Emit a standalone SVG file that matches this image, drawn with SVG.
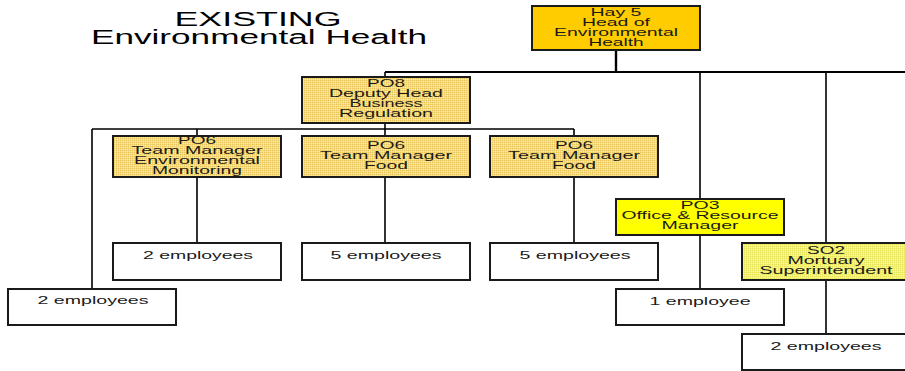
<svg xmlns="http://www.w3.org/2000/svg" width="905" height="371" viewBox="0 0 905 371">
<defs>
<pattern id="dOr" width="2" height="2" patternUnits="userSpaceOnUse">
<rect width="2" height="2" fill="#F6DA82"/><rect width="1" height="1" fill="#E9C75C"/><rect x="1" y="1" width="1" height="1" fill="#FCEAA8"/>
</pattern>
<pattern id="dYe" width="2" height="2" patternUnits="userSpaceOnUse">
<rect width="2" height="2" fill="#F3F07A"/><rect width="1" height="1" fill="#E8E45A"/><rect x="1" y="1" width="1" height="1" fill="#FAF8A8"/>
</pattern>
<style>
.b{stroke:#1a1a1a;stroke-width:2}
.w{fill:#fff}
.c{fill:none;stroke:#000;stroke-width:1.6}
text{font-family:"Liberation Sans",Arial,sans-serif;font-size:11px;fill:#1a1a1a;text-anchor:middle}
.t{font-size:20px;fill:#000}
</style>
</defs>
<g id="title">
<text class="t" x="258" y="26" textLength="167" lengthAdjust="spacingAndGlyphs">EXISTING</text>
<text class="t" x="259" y="44" textLength="336" lengthAdjust="spacingAndGlyphs">Environmental Health</text>
</g>
<g id="connectors">
<path class="c" d="M616 50V72" style="stroke-width:2.4"/>
<path class="c" d="M385 72H905" style="stroke-width:2"/>
<path class="c" d="M385 72V77M700 72V289M826 72V334"/>
<path class="c" d="M385 123V136M92 129H574M92 129V289M197 129V136M574 129V136"/>
<path class="c" d="M197 177V243M385 177V243M574 177V243"/>
</g>
<g id="hay5">
<rect class="b" x="532" y="6" width="168" height="44" fill="#FFCC00"/>
<text x="616" y="16" textLength="51" lengthAdjust="spacingAndGlyphs">Hay 5</text>
<text x="616" y="26" textLength="68" lengthAdjust="spacingAndGlyphs">Head of</text>
<text x="616" y="36" textLength="124" lengthAdjust="spacingAndGlyphs">Environmental</text>
<text x="616" y="46" textLength="55" lengthAdjust="spacingAndGlyphs">Health</text>
</g>
<g id="po8">
<rect class="b" x="302" y="77" width="168" height="46" fill="url(#dOr)"/>
<text x="386" y="87" textLength="38" lengthAdjust="spacingAndGlyphs">PO8</text>
<text x="386" y="97" textLength="114" lengthAdjust="spacingAndGlyphs">Deputy Head</text>
<text x="386" y="107" textLength="73" lengthAdjust="spacingAndGlyphs">Business</text>
<text x="386" y="117" textLength="94" lengthAdjust="spacingAndGlyphs">Regulation</text>
</g>
<g id="po6-env">
<rect class="b" x="113" y="136" width="168" height="41" fill="url(#dOr)"/>
<text x="197" y="144" textLength="38" lengthAdjust="spacingAndGlyphs">PO6</text>
<text x="197" y="154" textLength="131" lengthAdjust="spacingAndGlyphs">Team Manager</text>
<text x="197" y="164" textLength="126" lengthAdjust="spacingAndGlyphs">Environmental</text>
<text x="197" y="174" textLength="90" lengthAdjust="spacingAndGlyphs">Monitoring</text>
</g>
<g id="po6-food1">
<rect class="b" x="302" y="136" width="168" height="41" fill="url(#dOr)"/>
<text x="386" y="149" textLength="38" lengthAdjust="spacingAndGlyphs">PO6</text>
<text x="386" y="159" textLength="132" lengthAdjust="spacingAndGlyphs">Team Manager</text>
<text x="386" y="169" textLength="44" lengthAdjust="spacingAndGlyphs">Food</text>
</g>
<g id="po6-food2">
<rect class="b" x="490" y="136" width="168" height="41" fill="url(#dOr)"/>
<text x="574" y="149" textLength="38" lengthAdjust="spacingAndGlyphs">PO6</text>
<text x="574" y="159" textLength="132" lengthAdjust="spacingAndGlyphs">Team Manager</text>
<text x="574" y="169" textLength="44" lengthAdjust="spacingAndGlyphs">Food</text>
</g>
<g id="po3">
<rect class="b" x="616" y="199" width="168" height="36" fill="#FFFF00"/>
<text x="700" y="209" textLength="39" lengthAdjust="spacingAndGlyphs">PO3</text>
<text x="700" y="219" textLength="157" lengthAdjust="spacingAndGlyphs">Office &amp; Resource</text>
<text x="700" y="229" textLength="77" lengthAdjust="spacingAndGlyphs">Manager</text>
</g>
<g id="so2">
<rect class="b" x="742" y="243" width="170" height="37" fill="url(#dYe)"/>
<text x="826" y="254" textLength="38" lengthAdjust="spacingAndGlyphs">SO2</text>
<text x="826" y="264" textLength="77" lengthAdjust="spacingAndGlyphs">Mortuary</text>
<text x="826" y="274" textLength="133" lengthAdjust="spacingAndGlyphs">Superintendent</text>
</g>
<g id="emp-env">
<rect class="b w" x="113" y="243" width="168" height="37"/>
<text x="198" y="259" textLength="110" lengthAdjust="spacingAndGlyphs">2 employees</text>
</g>
<g id="emp-food1">
<rect class="b w" x="302" y="243" width="168" height="37"/>
<text x="386" y="259" textLength="111" lengthAdjust="spacingAndGlyphs">5 employees</text>
</g>
<g id="emp-food2">
<rect class="b w" x="490" y="243" width="168" height="37"/>
<text x="575" y="259" textLength="111" lengthAdjust="spacingAndGlyphs">5 employees</text>
</g>
<g id="emp-deputy">
<rect class="b w" x="8" y="289" width="168" height="36"/>
<text x="93" y="304" textLength="111" lengthAdjust="spacingAndGlyphs">2 employees</text>
</g>
<g id="emp-office">
<rect class="b w" x="616" y="289" width="168" height="36"/>
<text x="700" y="305" textLength="101" lengthAdjust="spacingAndGlyphs">1 employee</text>
</g>
<g id="emp-mortuary">
<rect class="b w" x="742" y="334" width="170" height="36"/>
<text x="826" y="350" textLength="111" lengthAdjust="spacingAndGlyphs">2 employees</text>
</g>
</svg>
